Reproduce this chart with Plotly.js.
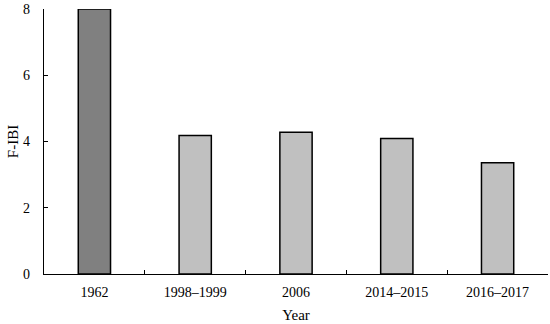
<!DOCTYPE html>
<html><head><meta charset="utf-8">
<script src="https://cdn.plot.ly/plotly-3.0.1.min.js"></script>
<style>body{margin:0;background:#fff}#c{width:550px;height:324px}</style>
</head><body><div id="c"></div>
<script>
const years = ["1962", "1998–1999", "2006", "2014–2015", "2016–2017"];
const fibi = [8.0, 4.18, 4.28, 4.09, 3.36];
const barColors = ["#808080", "#c0c0c0", "#c0c0c0", "#c0c0c0", "#c0c0c0"];
const yTicks = [0, 2, 4, 6, 8];

const font = {family: "Liberation Serif, Times New Roman, serif", size: 14, color: "#000"};
Plotly.newPlot("c", [{
  type: "bar", x: years, y: fibi, width: 0.32,
  marker: {color: barColors, line: {color: "#000", width: 1.5}},
  cliponaxis: false
}], {
  width: 550, height: 324,
  margin: {l: 44, r: 2, t: 9, b: 50},
  paper_bgcolor: "#fff", plot_bgcolor: "#fff",
  font: font, showlegend: false,
  xaxis: {type: "category", tickson: "boundaries", ticks: "inside", ticklen: 4, tickwidth: 1.2,
    tickcolor: "#000", showline: true, linecolor: "#000", linewidth: 1.2, ticklabelstandoff: 5,
    title: {text: "Year", font: {family: font.family, size: 15, color: "#000"}, standoff: 10}, tickfont: font, zeroline: false, showgrid: false},
  yaxis: {range: [0, 8], tickvals: yTicks, ticks: "inside", ticklen: 4, tickwidth: 1.2,
    tickcolor: "#000", showline: true, linecolor: "#000", linewidth: 1.2, ticklabelstandoff: 10,
    title: {text: "F-IBI", font: {family: font.family, size: 15, color: "#000"}, standoff: 0}, tickfont: font, zeroline: false, showgrid: false}
}, {staticPlot: true});
</script></body></html>
